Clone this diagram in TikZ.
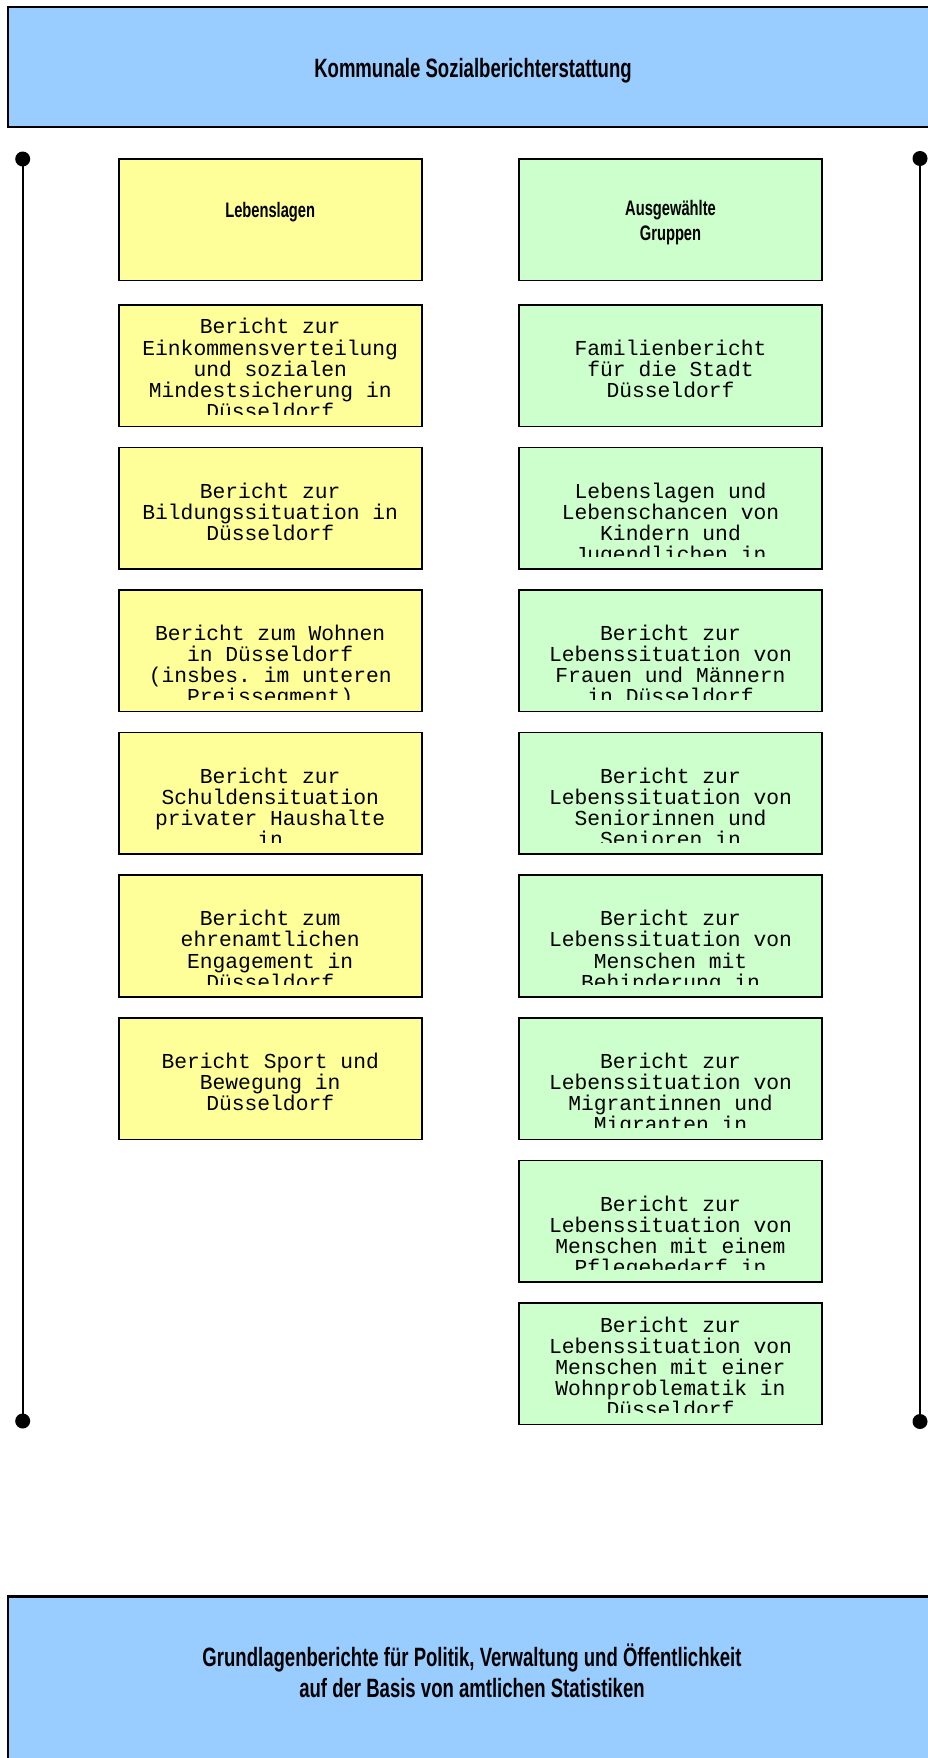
\documentclass[tikz,border=0pt]{standalone}
\usepackage{fontspec}
\setmonofont{Liberation Mono}
\newfontfamily\kopffont{Liberation Sans}[FakeStretch=0.7]
\usetikzlibrary{positioning}
\definecolor{hb}{HTML}{99CCFF}
\definecolor{gb}{HTML}{FFFF99}
\definecolor{gr}{HTML}{CCFFCC}
\setlength{\lineskiplimit}{-20pt}

\begin{document}
\begin{tikzpicture}[x=1pt,y=-1pt,node distance=21.1pt,
  band/.style={rectangle,draw=black,fill=hb,line width=2.2pt,minimum width=930pt,outer sep=0pt},
  lage/.style={rectangle,draw=black,fill=gb,line width=1.6pt,minimum width=303pt,minimum height=121.5pt,outer sep=0pt,inner sep=0pt},
  gruppe/.style={lage,fill=gr},
  titel/.style={font=\kopffont\bfseries\fontsize{26.5}{31}\selectfont,align=center,inner sep=0pt},
  kopf/.style={font=\kopffont\bfseries\fontsize{21}{25}\selectfont,align=center,inner sep=0pt,anchor=north,execute at begin node={\rule{0pt}{17pt}}},
  bericht/.style={font=\ttfamily\fontsize{21.3}{21.1}\selectfont,align=center,inner sep=0pt,anchor=north,execute at begin node={\rule{0pt}{17pt}}},
  punkt/.style={circle,fill=black,inner sep=0pt,minimum size=15pt},
  linie/.style={line width=2pt}]
\useasboundingbox (0,0) rectangle (928,1758);
\clip (0,0) rectangle (928,1758);
% obere und untere Leiste
\node[band,minimum height=119.4pt] (oben) at (473,67) {};
\node[titel,anchor=base] (titel) at (473,77.3) {Kommunale Sozialberichterstattung};
\node[band,minimum height=200pt,anchor=north] (unten) at (473,1596.5) {};
\node[titel,anchor=north,execute at begin node={\rule{0pt}{25pt}}] (basis) at (472,1644)
  {Grundlagenberichte für Politik, Verwaltung und Öffentlichkeit\\auf der Basis von amtlichen Statistiken};
% Spalten
\node[lage] (l0) at (270.2,219.75) {};
\node[lage,below=24.3pt of l0] (l1) {};
\foreach \i [count=\j from 1] in {2,...,6}
  \node[lage,below=of l\j] (l\i) {};
\node[gruppe] (g0) at (670.5,219.75) {};
\node[gruppe,below=24.3pt of g0] (g1) {};
\foreach \i [count=\j from 1] in {2,...,8}
  \node[gruppe,below=of g\j] (g\i) {};
\node[kopf] (l0t) at ([yshift=-41pt]l0.north) {Lebenslagen};
\node[kopf] (g0t) at ([yshift=-41pt]g0.north) {Ausgewählte\\Gruppen};
% Berichte (Text unten abgeschnitten)
\foreach \n/\abst/\txt in {l1/13.5pt/{Bericht zur\\Einkommensverteilung\\und sozialen\\Mindestsicherung in\\Düsseldorf},
  l2/35pt/{Bericht zur\\Bildungssituation in\\Düsseldorf},
  l3/35pt/{Bericht zum Wohnen\\in Düsseldorf\\(insbes. im unteren\\Preissegment)},
  l4/35pt/{Bericht zur\\Schuldensituation\\privater Haushalte\\in},
  l5/35pt/{Bericht zum\\ehrenamtlichen\\Engagement in\\Düsseldorf},
  l6/35pt/{Bericht Sport und\\Bewegung in\\Düsseldorf},
  g1/35pt/{Familienbericht\\für die Stadt\\Düsseldorf},
  g2/35pt/{Lebenslagen und\\Lebenschancen von\\Kindern und\\Jugendlichen in},
  g3/35pt/{Bericht zur\\Lebenssituation von\\Frauen und Männern\\in Düsseldorf},
  g4/35pt/{Bericht zur\\Lebenssituation von\\Seniorinnen und\\Senioren in},
  g5/35pt/{Bericht zur\\Lebenssituation von\\Menschen mit\\Behinderung in},
  g6/35pt/{Bericht zur\\Lebenssituation von\\Migrantinnen und\\Migranten in},
  g7/35pt/{Bericht zur\\Lebenssituation von\\Menschen mit einem\\Pflegebedarf in},
  g8/13.5pt/{Bericht zur\\Lebenssituation von\\Menschen mit einer\\Wohnproblematik in\\Düsseldorf}}{
  \begin{scope}
    \clip (\n.north west) rectangle ([yshift=12pt]\n.south east);
    \node[bericht] (\n t) at ([yshift=-\abst]\n.north) {\txt};
  \end{scope}
}
% seitliche Klammern
\node[punkt] (lo) at (22.7,159) {};
\node[punkt] (lu) at (22.7,1421) {};
\node[punkt] (ro) at (920,158.5) {};
\node[punkt] (ru) at (920,1421.5) {};
\draw[linie] (lo.center) -- (lu.center);
\draw[linie] (ro.center) -- (ru.center);
\end{tikzpicture}
\end{document}
